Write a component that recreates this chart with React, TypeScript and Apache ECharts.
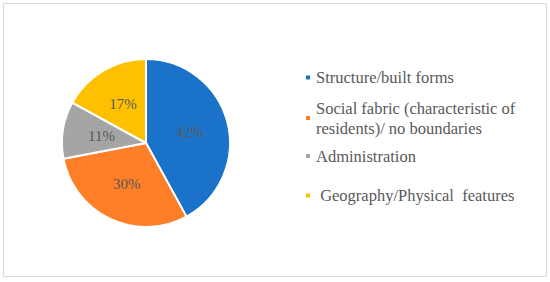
import React, { useEffect, useRef } from "react";
import * as echarts from "echarts";

const categories = [
  "Structure/built forms",
  "Social fabric (characteristic of\nresidents)/ no boundaries",
  "Administration",
  " Geography/Physical  features",
];
const values = [42, 30, 11, 17];
const colors = ["#1a73c8", "#fe7f27", "#a5a5a5", "#ffc000"];
const legendTops = [67.5, 88, 146, 185.5];

export default function App() {
  const ref = useRef<HTMLDivElement>(null);
  useEffect(() => {
    if (!ref.current) return;
    const chart = echarts.init(ref.current, null, { renderer: "svg" });
    const font = "'Liberation Serif', 'Times New Roman', serif";
    chart.setOption({
      animation: false,
      color: colors,
      graphic: [
        {
          type: "rect",
          shape: { x: 3.5, y: 3.5, width: 543, height: 273 },
          style: { fill: "none", stroke: "#d9d9d9", lineWidth: 1 },
          silent: true,
        },
      ],
      legend: categories.map((name, i) => ({
        data: [name],
        orient: "vertical",
        left: 304,
        top: legendTops[i],
        padding: 0,
        icon: "rect",
        itemWidth: 6,
        itemHeight: 6,
        itemGap: 0,
        selectedMode: false,
        textStyle: {
          fontFamily: font,
          fontSize: 16.5,
          color: "#595959",
          lineHeight: 20,
          padding: i === 1 ? [20, 0, 0, 0] : 0,
        },
      })),
      series: [
        {
          type: "pie",
          center: [146, 143],
          radius: 84,
          startAngle: 90,
          clockwise: true,
          itemStyle: { borderColor: "#ffffff", borderWidth: 2 },
          label: {
            show: true,
            position: "inside",
            formatter: "{c}%",
            fontFamily: font,
            fontSize: 15,
            color: "#595959",
          },
          labelLine: { show: false },
          emphasis: { disabled: true },
          data: categories.map((name, i) => ({ name, value: values[i] })),
        },
      ],
    });
    return () => chart.dispose();
  }, []);
  return (
    <div
      ref={ref}
      style={{ position: "fixed", left: 0, top: 0, width: 550, height: 282, background: "#fff" }}
    />
  );
}
